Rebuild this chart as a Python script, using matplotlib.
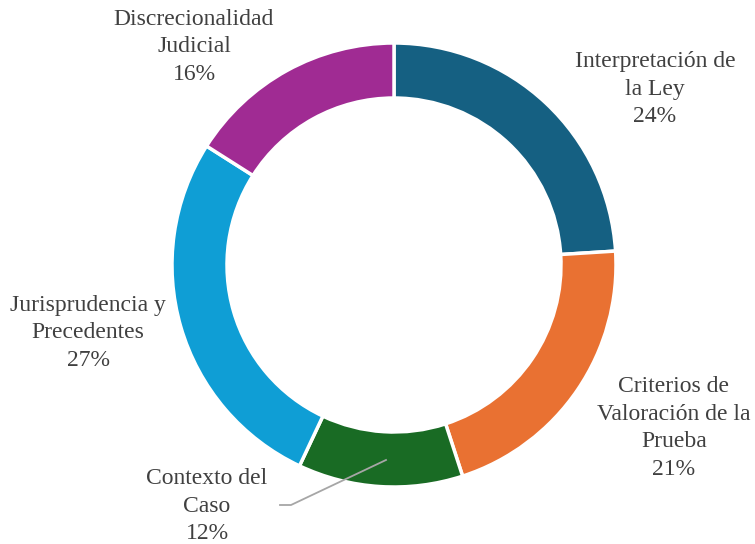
import matplotlib
matplotlib.use("Agg")
import matplotlib.pyplot as plt

labels = ["Interpretación de\nla Ley", "Criterios de\nValoración de la\nPrueba",
          "Contexto del\nCaso", "Jurisprudencia y\nPrecedentes", "Discrecionalidad\nJudicial"]
values = [24, 21, 12, 27, 16]
colors = ["#156082", "#E97132", "#196B24", "#0F9ED5", "#A02B93"]

# label anchor points (pixels from top-left)
label_pos = [(655, 89), (674, 428), (207, 506), (88, 333), (194, 47)]

H = 544
fig = plt.figure(figsize=(7.55, 5.44), dpi=100)
ax = fig.add_axes([0, 0, 1, 1])

ax.pie(values, colors=colors, startangle=90, counterclock=False,
       center=(394, H - 265), radius=222,
       wedgeprops=dict(width=55, edgecolor="white", linewidth=2.5))

for lab, v, (px, py) in zip(labels, values, label_pos):
    ax.text(px, H - py, f"{lab}\n{v}%", ha="center", va="center",
            fontsize=17, family="Liberation Serif", color="#404040",
            linespacing=1.42)

# leader line for the small slice
ax.plot([280, 291, 386], [H - 505, H - 505, H - 460], color="#A6A6A6", lw=1.3)

ax.set_xlim(0, 755)
ax.set_ylim(0, H)
ax.set_aspect("auto")
ax.axis("off")
fig.savefig("out.png", dpi=100)
